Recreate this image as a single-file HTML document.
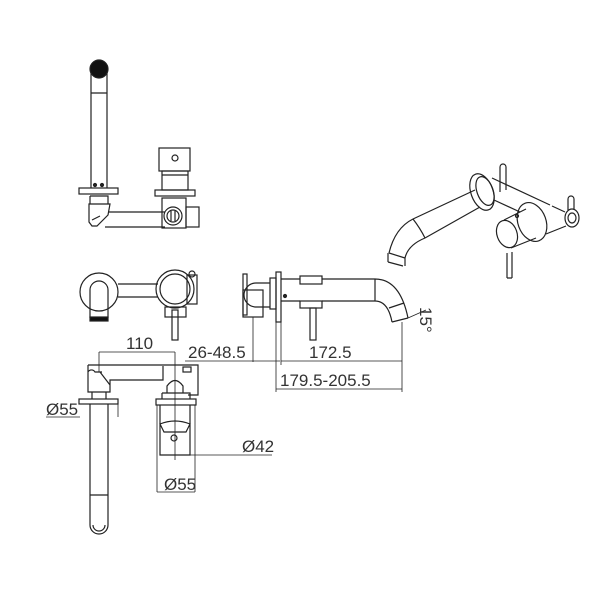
<!DOCTYPE html>
<html><head><style>html,body{margin:0;background:#fff}svg{display:block}text{font-family:"Liberation Sans Narrow","Liberation Sans",sans-serif;font-size:17px;fill:#333;stroke:none;font-weight:normal}</style></head><body>
<svg width="600" height="600" viewBox="0 0 600 600" fill="none" stroke="#222" stroke-width="1.2">
<!-- top-left view -->
<path d="M91 70 V188 M107 70 V188 M91 93 H107"/>
<circle cx="99" cy="69" r="9" fill="#111"/>
<circle cx="95" cy="185" r="1.5" fill="#222"/><circle cx="102" cy="185" r="1.5" fill="#222"/>
<rect x="79" y="188" width="39" height="6"/>
<path d="M90 196 H108 V204 M90 196 V204 M89 204 H110 L108 215 L97 226 H92 L89 222 Z"/>
<path d="M108 212 H165 M105 227 H165 M92 220 L100 216"/>
<rect x="159" y="148" width="31" height="23"/><circle cx="175" cy="158" r="3"/>
<rect x="162" y="171" width="26" height="19"/><path d="M162 175 H188"/>
<rect x="155" y="190" width="40" height="6"/>
<rect x="162" y="198" width="24" height="30"/><rect x="186" y="207" width="13" height="20"/>
<circle cx="173" cy="216" r="9"/><circle cx="173" cy="216" r="6"/><path d="M171 211 V221 M175 211 V221"/>
<!-- front view -->
<circle cx="99" cy="292" r="19"/>
<path d="M90 318 V290 A9 9 0 0 1 108 290 V318"/>
<rect x="90" y="317" width="18" height="4" fill="#111"/>
<path d="M118 284 H158 M118 297 H158"/>
<circle cx="175" cy="289" r="19"/><circle cx="175" cy="289" r="15"/>
<rect x="187" y="275" width="10" height="29"/><circle cx="192" cy="274" r="3"/>
<rect x="165" y="307" width="21" height="10"/><rect x="172" y="310" width="6" height="30"/>
<!-- bottom top view -->
<path d="M99 352 H175 M99 352 V372 M175 352 V460" stroke-width="0.8"/>
<text x="126" y="349">110</text>
<path d="M88 365 H198 V395 H188 M88 365 V392 H110 V380 H163 V366 M88 372 A4 4 0 0 1 95 372 H102 M100 372 L110 385"/>
<rect x="183" y="367" width="8" height="5"/>
<path d="M92 392 V399 M106 392 V399 M167 393 V386 Q175 375 183 386 V393 M162 393 H190 V399 M162 393 V399"/>
<rect x="79" y="399" width="39" height="5"/>
<path d="M90 404 V525 A9 9 0 0 0 108 525 V404 M90 495 H108 M93 525 A6 6 0 0 0 105 525"/>
<path d="M46 417 H80 M118 404 V417" stroke-width="0.8"/>
<text x="46" y="415">Ø55</text>
<rect x="156" y="399" width="40" height="6"/>
<path d="M160 405 V455 H190 V405 M160 424 Q175 418 190 424 L186 432 H164 Z"/>
<circle cx="174" cy="438" r="3"/>
<path d="M190 455 H272 M157 405 V492 M195 405 V492 M157 492 H195" stroke-width="0.8"/>
<text x="242" y="452">Ø42</text><text x="164" y="490">Ø55</text>
<!-- side view -->
<rect x="243" y="274" width="4" height="41"/><rect x="243" y="290" width="20" height="27"/>
<path d="M270 283 H256 A12 12 0 0 0 256 307 H270"/>
<rect x="270" y="278" width="6" height="31"/><rect x="276" y="272" width="5" height="50"/>
<path d="M281 279 H300 M281 301 H300 M322 279 H375 Q400 279 408 318 M322 301 H375 Q388 301 392 322 M375 279 V301 M389 308 L404 303 M392 322 L408 318"/>
<rect x="300" y="276" width="22" height="8"/><rect x="300" y="301" width="22" height="7"/>
<rect x="310" y="308" width="6" height="32"/>
<circle cx="285" cy="296" r="1.5" fill="#222"/>
<path d="M253 317 V362 M185 361 H280 M281 322 V365 M281 361 H402 M402 322 V392 M276 322 V392 M276 389 H402 M408 318 L426 310" stroke-width="0.8"/>
<text x="188" y="358">26-48.5</text><text x="309" y="358">172.5</text><text x="280" y="386">179.5-205.5</text>
<text x="0" y="0" transform="translate(420 307) rotate(90)">15°</text>
<!-- iso view -->
<path d="M413 219 L475 190 M425 238 L480 207 M413 219 Q395 228 389 253 M425 238 Q408 245 405 258 M389 253 L405 258 M388 262 L403 266 M388 253 V262 M405 258 V266 M413 219 Q420 228 425 238"/>
<ellipse cx="482" cy="192" rx="11" ry="19" transform="rotate(-20 482 192)"/>
<ellipse cx="485" cy="191" rx="8" ry="15" transform="rotate(-20 485 191)"/>
<path d="M492 178 L550 205 M494 200 L520 212"/>
<path d="M500 192 V167 A3 3 0 0 1 506 167 V190"/>
<path d="M568 210 V199 A3 3 0 0 1 574 199 V210"/>
<ellipse cx="572" cy="218" rx="7" ry="9"/><ellipse cx="572" cy="218" rx="4" ry="5"/>
<path d="M552 206 L565 212 M546 234 L566 226"/>
<ellipse cx="532" cy="222" rx="14" ry="20" transform="rotate(-20 532 222)"/>
<ellipse cx="507" cy="234" rx="10" ry="14" transform="rotate(-20 507 234)"/>
<path d="M504 220 L526 209 M511 248 L536 238"/>
<circle cx="517" cy="216" r="1.5"/>
<path d="M507 253 V278 M512 252 V278 M507 278 H512"/>
</svg>
</body></html>
